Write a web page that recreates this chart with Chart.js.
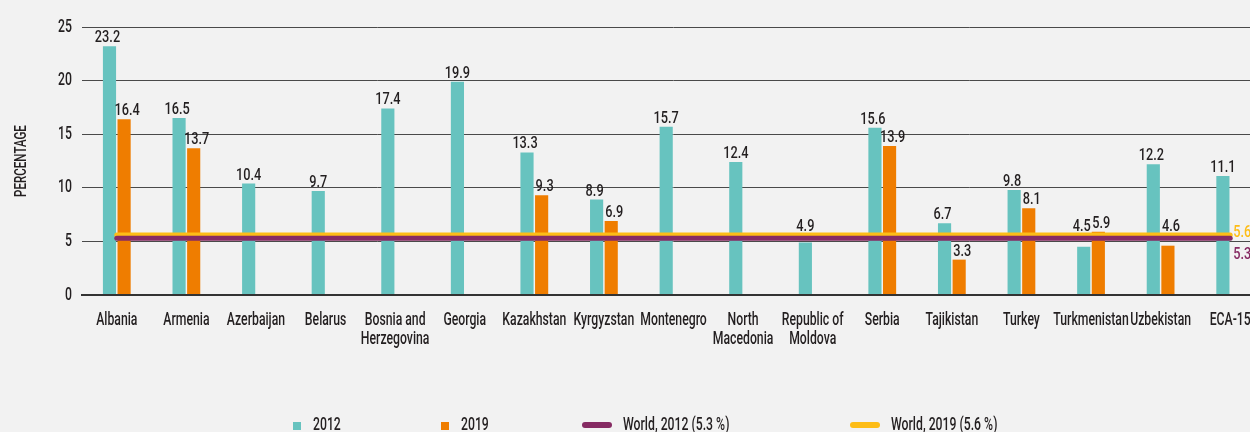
<!DOCTYPE html>
<html>
<head>
<meta charset="utf-8">
<script src="https://cdn.jsdelivr.net/npm/chart.js@4.4.0/dist/chart.umd.min.js"></script>
<style>
  html, body { margin:0; padding:0; background:#f2f2f2; overflow:hidden; width:1250px; height:432px; }
  #wrap { position:relative; width:1268px; height:432px; }
  #legend { position:absolute; left:0; top:414px; width:1250px; height:20px;
            font-family:Roboto, sans-serif; font-weight:500; font-size:18px; color:#231f20; }
  .lg-item { position:absolute; top:0; height:20px; display:flex; align-items:center; white-space:nowrap; }
  .lg-sq { width:8px; height:8px; margin-right:12px; margin-top:4px; flex:none; }
  .lg-line { width:30px; height:6px; border-radius:3px; margin-right:11px; margin-top:2px; flex:none; }
  .lg-tx { display:inline-block; transform:scaleX(0.68); transform-origin:left center; line-height:20px; }
</style>
</head>
<body>
<div id="wrap">
  <canvas id="c"></canvas>
  <div id="legend"></div>
</div>
<script>
// ---- data ----
const categories = ['Albania','Armenia','Azerbaijan','Belarus',['Bosnia and','Herzegovina'],'Georgia','Kazakhstan','Kyrgyzstan','Montenegro',['North','Macedonia'],['Republic of','Moldova'],'Serbia','Tajikistan','Turkey','Turkmenistan','Uzbekistan','ECA-15'];
const values2012 = [23.2,16.5,10.4,9.7,17.4,19.9,13.3,8.9,15.7,12.4,4.9,15.6,6.7,9.8,4.5,12.2,11.1];
const values2019 = [16.4,13.7,null,null,null,null,9.3,6.9,null,null,null,13.9,3.3,8.1,5.9,4.6,null];
const world2012 = 5.3;
const world2019 = 5.6;
const yTickValues = [0,5,10,15,20,25];
const yTitle = 'PERCENTAGE';
const seriesNames = ['2012','2019','World, 2012 (5.3 %)','World, 2019 (5.6 %)'];

// ---- styles ----
const FONT = "Roboto, sans-serif";
const SX = 0.68;          // horizontal condensing of the text
const TEAL = '#67c3bf', ORANGE = '#ef7d00', PURPLE = '#862b63', YELLOW = '#fdbd17', INK = '#231f20';

const firstCat = categories[0];
const lastCat = categories[categories.length-1];

function drawText(ctx, text, x, y, sx, align) {
  ctx.save();
  ctx.translate(x, y);
  ctx.scale(sx, 1);
  ctx.textAlign = align;
  ctx.fillText(text, 0, 0);
  ctx.restore();
}

const textPlugin = {
  id: 'condensedText',
  afterDraw(chart) {
    const ctx = chart.ctx, xs = chart.scales.x, ys = chart.scales.y;
    ctx.save();
    ctx.fillStyle = INK;
    ctx.textBaseline = 'alphabetic';

    // y tick labels
    ctx.font = '500 18px ' + FONT;
    ys.ticks.forEach(t => {
      drawText(ctx, String(t.value), ys.right - 10, ys.getPixelForValue(t.value) + 4.5, SX, 'right');
    });

    // x tick labels (multi-line)
    xs.ticks.forEach((t, i) => {
      const lab = categories[i];
      const lines = Array.isArray(lab) ? lab : [lab];
      const px = xs.getPixelForTick(i);
      lines.forEach((ln, k) => drawText(ctx, ln, px, xs.top + 30 + k * 19, SX, 'center'));
    });

    // y title
    ctx.font = '500 17px ' + FONT;
    ctx.save();
    ctx.translate(26, (chart.chartArea.top + chart.chartArea.bottom) / 2);
    ctx.rotate(-Math.PI / 2);
    ctx.scale(SX, 1);
    ctx.textAlign = 'center';
    ctx.fillText(yTitle, 0, 0);
    ctx.restore();
    ctx.restore();
  },
  afterDatasetsDraw(chart) {
    const ctx = chart.ctx, ys = chart.scales.y;
    const bandTop = ys.getPixelForValue(world2019) - 3;
    const bandBottom = ys.getPixelForValue(world2012) + 3;
    ctx.save();
    ctx.font = '500 17px ' + FONT;
    ctx.fillStyle = INK;
    ctx.textBaseline = 'alphabetic';
    [0,1].forEach(di => {
      const meta = chart.getDatasetMeta(di);
      const data = chart.data.datasets[di].data;
      meta.data.forEach((bar, i) => {
        const v = data[i];
        if (v === null || v === undefined) return;
        let by = bar.y - 4;
        if (by > bandTop && by - 13 < bandBottom) by = bandTop - 1;
        const paired = values2012[i] !== null && values2019[i] !== null;
        const dx = paired ? (di === 0 ? -2 : 3) : 0;
        drawText(ctx, v.toFixed(1), bar.x + dx, by, 0.75, 'center');
      });
    });
    // end labels of world lines
    const m2019 = chart.getDatasetMeta(3), m2012 = chart.getDatasetMeta(2);
    const p19 = m2019.data[m2019.data.length-1], p12 = m2012.data[m2012.data.length-1];
    ctx.fillStyle = YELLOW;
    drawText(ctx, world2019.toFixed(1), p19.x + 3, p19.y + 2, 0.75, 'left');
    ctx.fillStyle = PURPLE;
    drawText(ctx, world2012.toFixed(1), p12.x + 3, p12.y + 21, 0.75, 'left');
    ctx.restore();
  }
};

const chart = new Chart(document.getElementById('c'), {
  data: {
    labels: categories,
    datasets: [
      { type:'bar', label: seriesNames[0], data: values2012, backgroundColor: TEAL, order: 3,
        categoryPercentage: 0.42, barPercentage: 0.9 },
      { type:'bar', label: seriesNames[1], data: values2019, backgroundColor: ORANGE, order: 3,
        categoryPercentage: 0.42, barPercentage: 0.9 },
      { type:'line', label: seriesNames[2], data: [{x:firstCat, y:world2012},{x:lastCat, y:world2012}],
        borderColor: PURPLE, borderWidth: 5, borderCapStyle:'round', pointRadius:0, order: 1 },
      { type:'line', label: seriesNames[3], data: [{x:firstCat, y:world2019},{x:lastCat, y:world2019}],
        borderColor: YELLOW, borderWidth: 5, borderCapStyle:'round', pointRadius:0, order: 2 }
    ]
  },
  options: {
    responsive: true,
    maintainAspectRatio: false,
    animation: false,
    layout: { padding: { top: 27, right: 3, left: 0, bottom: 0 } },
    plugins: { legend: { display:false }, tooltip: { enabled:false } },
    scales: {
      x: {
        type: 'category',
        grid: { display:false, drawTicks:false },
        border: { display:true, color:'#333', width:2 },
        ticks: { display:false, autoSkip:false },
        afterFit(scale) { scale.height = 137; }
      },
      y: {
        min: 0, max: 25,
        afterBuildTicks(scale) { scale.ticks = yTickValues.map(v => ({ value: v })); },
        grid: { color: ctx => ctx.tick && ctx.tick.value === 0 ? '#333' : '#4a4a4a',
                lineWidth: ctx => ctx.tick && ctx.tick.value === 0 ? 2 : 1, drawTicks:false },
        border: { display:false },
        ticks: { display:false },
        afterFit(scale) { scale.width = 82; }
      }
    }
  },
  plugins: [textPlugin]
});

// ---- HTML legend built from the datasets ----
const legendLefts = [293, 441, 582, 850];
const legend = document.getElementById('legend');
chart.data.datasets.forEach((ds, i) => {
  const item = document.createElement('div');
  item.className = 'lg-item';
  item.style.left = legendLefts[i] + 'px';
  const sw = document.createElement('span');
  sw.className = ds.type === 'bar' ? 'lg-sq' : 'lg-line';
  sw.style.background = ds.type === 'bar' ? ds.backgroundColor : ds.borderColor;
  const tx = document.createElement('span');
  tx.className = 'lg-tx';
  tx.textContent = ds.label;
  item.appendChild(sw); item.appendChild(tx);
  legend.appendChild(item);
});
</script>
</body>
</html>
